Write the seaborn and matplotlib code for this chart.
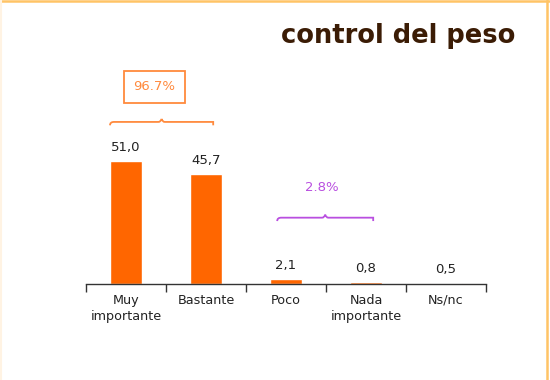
import matplotlib
matplotlib.use("Agg")
import matplotlib.pyplot as plt
import seaborn as sns
import pandas as pd
from matplotlib.path import Path
from matplotlib.patches import PathPatch
from matplotlib.lines import Line2D

categories = ["Muy\nimportante", "Bastante", "Poco", "Nada\nimportante", "Ns/nc"]
values = [51.0, 45.7, 2.1, 0.8, 0.5]
value_labels = ["51,0", "45,7", "2,1", "0,8", "0,5"]
title = "control del peso"
group_high = "96.7%"
group_low = "2.8%"

sns.set_theme(style="white")
plt.rcParams['font.family'] = ['DejaVu Sans']

df = pd.DataFrame({"cat": categories, "val": values})

W, H = 550, 380
fig = plt.figure(figsize=(5.5, 3.8), dpi=100)
fig.patch.set_facecolor("white")

ax_left, ax_right, ax_bottom_px = 86, 486, 284
ax = fig.add_axes([ax_left / W, (H - ax_bottom_px) / H, (ax_right - ax_left) / W, ax_bottom_px / H])
ax.set_facecolor("none")

sns.barplot(data=df, x="cat", y="val", color="#ff6600", width=0.41, saturation=1, ax=ax)

px_per_unit = 123 / 51.0
ax.set_xlim(-0.5, 4.5)
ax.set_ylim(0, ax_bottom_px / px_per_unit)

for s in ["top", "right", "left"]:
    ax.spines[s].set_visible(False)
ax.spines["bottom"].set_color("#333333")
ax.spines["bottom"].set_linewidth(1.0)
ax.set_yticks([])
ax.set_xlabel("")
ax.set_ylabel("")

ax.set_xticks(range(len(categories)))
ax.set_xticklabels(categories, fontsize=9.2, color="#222222", linespacing=1.35)
ax.tick_params(axis="x", which="major", length=0, pad=7)
ax.set_xticks([i - 0.5 for i in range(len(categories) + 1)], minor=True)
ax.tick_params(axis="x", which="minor", length=6, width=1, color="#333333", direction="out", bottom=True)

for i, (v, lab) in enumerate(zip(values, value_labels)):
    ax.annotate(lab, (i, v), xytext=(0, 5), textcoords="offset points",
                ha="center", va="bottom", fontsize=9.5, color="#222222")

def brace(ax, x0, x1, y, h, color):
    xm = (x0 + x1) / 2
    d = h
    verts = [
        (x0, y - d),
        (x0, y), (x0 + 0.05, y),
        (x0 + 0.12, y),
        (xm - 0.04, y),
        (xm - 0.01, y), (xm, y + d * 0.9),
        (xm, y + d * 0.9), (xm + 0.01, y), (xm + 0.04, y),
        (x1 - 0.12, y),
        (x1 - 0.05, y), (x1, y), (x1, y - d),
    ]
    codes = [Path.MOVETO,
             Path.CURVE3, Path.CURVE3,
             Path.LINETO,
             Path.LINETO,
             Path.CURVE3, Path.CURVE3,
             Path.MOVETO, Path.CURVE3, Path.CURVE3,
             Path.LINETO,
             Path.CURVE3, Path.CURVE3, Path.LINETO]
    ax.add_patch(PathPatch(Path(verts, codes), fill=False, edgecolor=color, lw=1.3, clip_on=False))

orange_txt = "#ff8a3d"
purple = "#b94fe0"

brace(ax, -0.2, 1.09, 67.2, 1.4, orange_txt)
ax.text(0.356, 81.7, group_high, ha="center", va="center", fontsize=9.5, color=orange_txt,
        bbox=dict(boxstyle="square,pad=0.7", fc="white", ec=orange_txt, lw=1.3))

brace(ax, 1.89, 3.09, 27.5, 1.4, purple)
ax.text(2.45, 40.2, group_low, ha="center", va="center", fontsize=9.5, color=purple)

fig.text(398 / W, 1 - 36 / H, title, ha="center", va="center", fontsize=18.5,
         fontweight="bold", color="#3b1c05")

fig.add_artist(Line2D([0, 1], [1 - 1 / H, 1 - 1 / H], transform=fig.transFigure, color="#ffc466", lw=1.8))
fig.add_artist(Line2D([547 / W, 547 / W], [0, 1], transform=fig.transFigure, color="#ffc466", lw=1.8))
fig.add_artist(Line2D([1 / W, 1 / W], [0, 1], transform=fig.transFigure, color="#fff3e3", lw=1.5))

fig.savefig("out.png", dpi=100, facecolor="white")
